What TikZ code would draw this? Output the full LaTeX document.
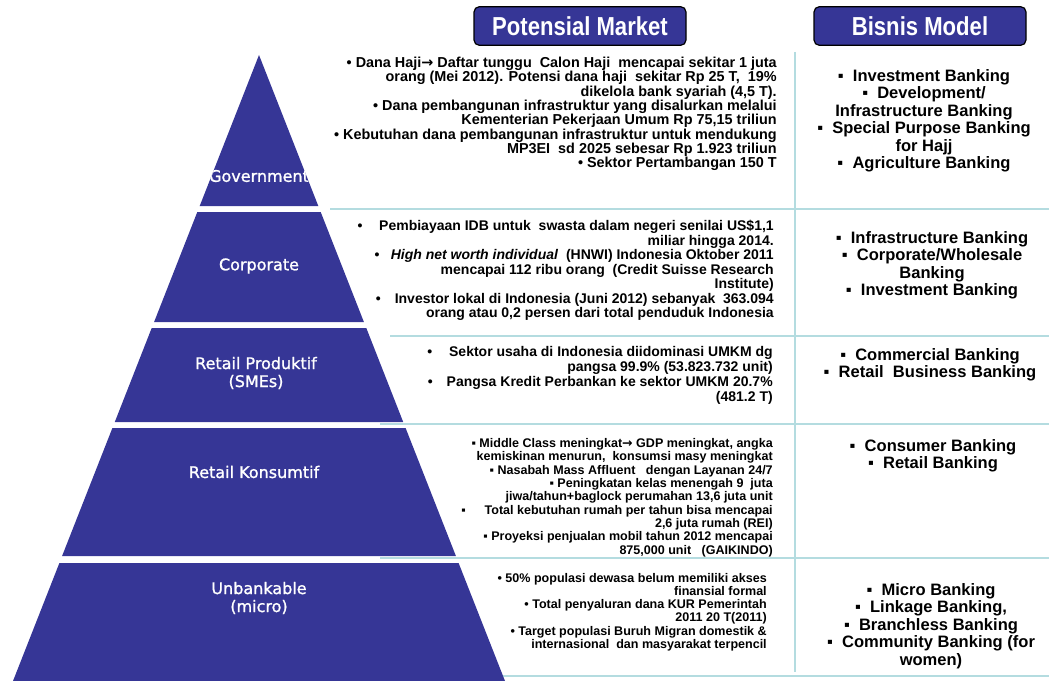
\documentclass[tikz,border=0pt]{standalone}
\usepackage{fontspec}
\setmainfont{Liberation Sans}
\newfontfamily\headfont[FakeStretch=0.85]{Liberation Sans}
\newfontfamily\labfont[FakeBold=1.2]{DejaVu Sans}
\newfontfamily\arrowfont{DejaVu Sans}
\usetikzlibrary{positioning}
\definecolor{pyrblue}{RGB}{54,54,150}
\definecolor{sepline}{RGB}{180,220,224}
\tikzset{
  header/.style={draw=black, line width=0.9pt, fill=pyrblue, rounded corners=4pt,
    text=white, font=\headfont\bfseries\fontsize{19.5}{21}\selectfont,
    minimum width=159pt, minimum height=29pt, inner sep=0pt},
  level/.style={fill=pyrblue},
  levellabel/.style={text=white, align=center, font=\labfont\fontsize{12}{13.5}\selectfont},
  market/.style={anchor=north east, align=right, inner sep=0pt},
  model/.style={anchor=north, align=center, inner sep=0pt,
    font=\bfseries\fontsize{12.4}{13.1}\selectfont},
  sep/.style={draw=sepline, line width=1.4pt},
}
\newcommand{\sqb}{\char"25AA}
\newcommand{\arr}{{\arrowfont\bfseries →}}

\begin{document}
\begin{tikzpicture}[x=0.75pt, y=-0.75pt]
	\useasboundingbox (0,0) rectangle (1049,681);

	% headers
	\node[header] (pm) at (580,26) {Potensial Market};
	\node[header] (bm) at (920,26) {Bisnis Model};

	% separators
	\draw[sep] (795,52) -- (795,672);
	\draw[sep] (330,209) -- (1049,209);
	\draw[sep] (390,336) -- (1049,336);
	\draw[sep] (380,424) -- (1049,424);
	\draw[sep] (380,558) -- (1049,558);
	\draw[sep] (380,676) -- (1049,676);

	% pyramid
	\coordinate (apex) at (259,55);
	\fill[level] (apex) -- (199.7,206) -- (318.3,206) -- cycle;
	\fill[level] (197.3,212) -- (320.7,212) -- (363.9,322) -- (154.1,322) -- cycle;
	\fill[level] (151.7,328) -- (366.3,328) -- (403.2,422) -- (114.8,422) -- cycle;
	\fill[level] (112.4,428) -- (405.6,428) -- (455.9,556) -- (62.1,556) -- cycle;
	\fill[level] (59.4,563) -- (458.6,563) -- (505,681) -- (13,681) -- cycle;

	% levels
	\begin{scope}
		\clip (apex) -- (199.7,206) -- (318.3,206) -- cycle;
		\node[levellabel] (gov) at (259,176) {Government};
	\end{scope}
	\node[levellabel] (corp) at (259,266) {Corporate};
	\node[levellabel] (prod) at (256,373) {Retail Produktif\\(SMEs)};
	\node[levellabel] (kons) at (254,472) {Retail Konsumtif};
	\node[levellabel] (micro) at (259,598) {Unbankable\\(micro)};

	% potensial market
	\node[market, font=\bfseries\fontsize{10.8}{10.7}\selectfont] (mgov) at (777,57)
		{• Dana Haji\arr\ Daftar tunggu\ \ Calon Haji\ \ mencapai sekitar 1 juta\\
		orang (Mei 2012). Potensi dana haji\ \ sekitar Rp 25 T,\ \ 19\%\\
		dikelola bank syariah (4,5 T).\\
		• Dana pembangunan infrastruktur yang disalurkan melalui\\
		Kementerian Pekerjaan Umum Rp 75,15 triliun\\
		• Kebutuhan dana pembangunan infrastruktur untuk mendukung\\
		MP3EI\ \ sd 2025 sebesar Rp 1.923 triliun\\
		• Sektor Pertambangan 150 T};
	\node[market, font=\bfseries\fontsize{10.5}{10.9}\selectfont] (mcorp) at (774,220)
		{•\hspace{1.2em}Pembiayaan IDB untuk\ \ swasta dalam negeri senilai US\$1,1\\
		miliar hingga 2014.\\
		•\hspace{0.8em}\textit{High net worth individual}\ \ (HNWI) Indonesia Oktober 2011\\
		mencapai 112 ribu orang\ \ (Credit Suisse Research\\
		Institute)\\
		•\hspace{1em}Investor lokal di Indonesia (Juni 2012) sebanyak\ \ 363.094\\
		orang atau 0,2 persen dari total penduduk Indonesia};
	\node[market, font=\bfseries\fontsize{10.5}{11.2}\selectfont] (mprod) at (773,346)
		{•\hspace{1.2em}Sektor usaha di Indonesia diidominasi UMKM dg\\
		pangsa 99.9\% (53.823.732 unit)\\
		•\hspace{1em}Pangsa Kredit Perbankan ke sektor UMKM 20.7\%\\
		(481.2 T)};
	\node[market, font=\bfseries\fontsize{9.4}{10}\selectfont] (mkons) at (773,438)
		{\sqb\ Middle Class meningkat\arr\ GDP meningkat, angka\\
		kemiskinan menurun,\ \ konsumsi masy meningkat\\
		\sqb\ Nasabah Mass Affluent\ \ \ dengan Layanan 24/7\\
		\sqb\ Peningkatan kelas menengah 9\ \ juta\\
		jiwa/tahun+baglock perumahan 13,6 juta unit\\
		\sqb\hspace{1.5em}Total kebutuhan rumah per tahun bisa mencapai\\
		2,6 juta rumah (REI)\\
		\sqb\ Proyeksi penjualan mobil tahun 2012 mencapai\\
		875,000 unit\ \ \ (GAIKINDO)};
	\node[market, font=\bfseries\fontsize{9.4}{9.9}\selectfont] (mmicro) at (767,573)
		{• 50\% populasi dewasa belum memiliki akses\\
		finansial formal\\
		• Total penyaluran dana KUR Pemerintah\\
		2011 20 T(2011)\\
		• Target populasi Buruh Migran domestik \&\\
		internasional\ \ dan masyarakat terpencil};

	% bisnis model
	\node[model] (bgov) at (924,69)
		{\sqb\ \ Investment Banking\\
		\sqb\ \ Development/\\
		Infrastructure Banking\\
		\sqb\ \ Special Purpose Banking\\
		for Hajj\\
		\sqb\ \ Agriculture Banking};
	\node[model] (bcorp) at (932,231)
		{\sqb\ \ Infrastructure Banking\\
		\sqb\ \ Corporate/Wholesale\\
		Banking\\
		\sqb\ \ Investment Banking};
	\node[model] (bprod) at (930,348)
		{\sqb\ \ Commercial Banking\\
		\sqb\ \ Retail\ \ Business Banking};
	\node[model] (bkons) at (933,439)
		{\sqb\ \ Consumer Banking\\
		\sqb\ \ Retail Banking};
	\node[model] (bmicro) at (931,583)
		{\sqb\ \ Micro Banking\\
		\sqb\ \ Linkage Banking,\\
		\sqb\ \ Branchless Banking\\
		\sqb\ \ Community Banking (for\\
		women)};

\end{tikzpicture}
\end{document}
